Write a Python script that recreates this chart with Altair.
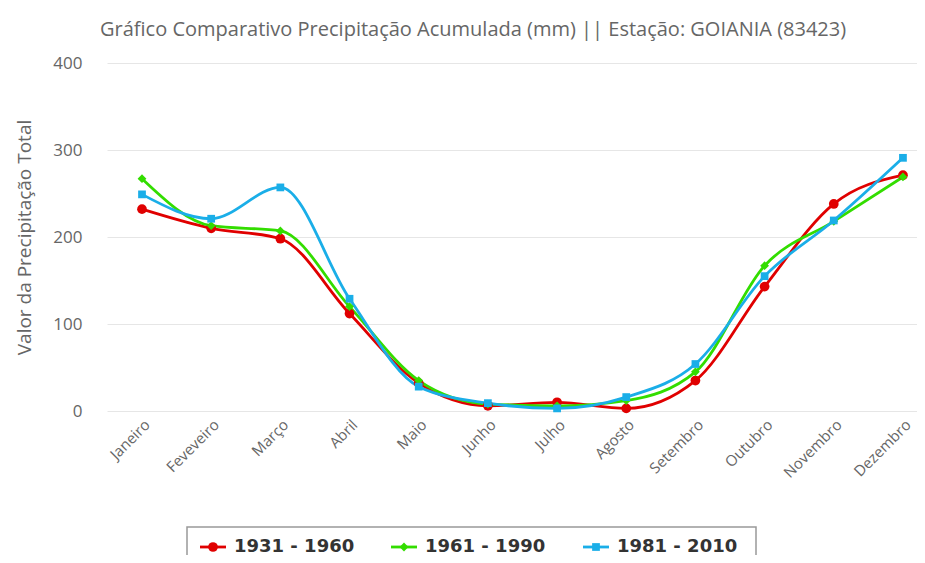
import altair as alt
import pandas as pd

months = ["Janeiro", "Feveveiro", "Março", "Abril", "Maio", "Junho", "Julho",
          "Agosto", "Setembro", "Outubro", "Novembro", "Dezembro"]
series_names = ["1931 - 1960", "1961 - 1990", "1981 - 2010"]
vals_1931 = [232, 210, 198, 112, 32, 6, 10, 3, 35, 143, 238, 271]
vals_1961 = [267, 213, 207, 120, 35, 8, 6, 12, 45, 167, 218, 269]
vals_1981 = [249, 221, 257, 129, 28, 9, 3, 16, 54, 155, 219, 291]
colors = ["#e00000", "#33dd00", "#1aaee8"]
shapes = ["circle", "diamond", "square"]
sizes = [95, 60, 140]
y_ticks = [0, 100, 200, 300, 400]

rows = []
for name, vals in zip(series_names, [vals_1931, vals_1961, vals_1981]):
    for i, (m, v) in enumerate(zip(months, vals)):
        rows.append({"idx": i, "mes": m, "valor": v, "serie": name})
df = pd.DataFrame(rows)

W, H = 810, 348
FONT = "Open Sans"
month_js = "[" + ",".join("'" + m + "'" for m in months) + "]"

x_enc = alt.X("idx:Q",
              scale=alt.Scale(domain=[-0.506, 11.203], nice=False, zero=False),
              axis=alt.Axis(title=None, values=list(range(len(months))),
                            labelExpr=month_js + "[datum.value]",
                            labelAngle=-45, labelAlign="right",
                            labelBaseline="top", labelFontSize=15, labelColor="#666",
                            labelFont=FONT, ticks=False, domain=False, grid=False,
                            labelPadding=6, labelFlush=False, labelOverlap=False))
y_enc = alt.Y("valor:Q", scale=alt.Scale(domain=[0, 400]),
              axis=alt.Axis(values=y_ticks, title="Valor da Precipitação Total",
                            titleFontSize=19, titleFont=FONT, titleColor="#666",
                            titleFontWeight="normal", titlePadding=18,
                            labelFontSize=17, labelColor="#666", labelFont=FONT,
                            labelPadding=25, ticks=False, domain=False,
                            grid=True, gridColor="#e6e6e6"))
color_enc = alt.Color("serie:N", scale=alt.Scale(domain=series_names, range=colors), legend=None)
shape_enc = alt.Shape("serie:N", scale=alt.Scale(domain=series_names, range=shapes), legend=None)
size_enc = alt.Size("serie:N", scale=alt.Scale(domain=series_names, range=sizes), legend=None)

lines = alt.Chart(df).mark_line(interpolate="monotone", strokeWidth=2.8).encode(
    x=x_enc, y=y_enc, color=color_enc, detail="serie:N"
)
points = alt.Chart(df).mark_point(filled=True, opacity=1).encode(
    x=x_enc, y=y_enc, color=color_enc, shape=shape_enc, size=size_enc
)

# custom legend below the plot (positions relative to the plot's top-left corner)
leg = pd.DataFrame({"serie": series_names, "lx": [106, 297, 489]})
leg["lx1"] = leg["lx"] - 13
leg["lx2"] = leg["lx"] + 13
leg["tx"] = leg["lx"] + 21
leg["ly"] = 484

lx_scale = alt.Scale(domain=[0, W], range=[0, W])
ly_scale = alt.Scale(domain=[0, H], range=[0, H])

legend_box = alt.Chart(pd.DataFrame({"a": [0]})).mark_rect(
    fill="white", stroke="#999", strokeWidth=1.5
).encode(
    x=alt.value(80), x2=alt.value(649), y=alt.value(464), y2=alt.value(515)
)
leg_lines = alt.Chart(leg).mark_rule(strokeWidth=2.8).encode(
    x=alt.X("lx1:Q", scale=lx_scale, axis=None), x2="lx2:Q",
    y=alt.Y("ly:Q", scale=ly_scale, axis=None),
    color=color_enc
)
leg_pts = alt.Chart(leg).mark_point(filled=True, opacity=1).encode(
    x=alt.X("lx:Q", scale=lx_scale, axis=None),
    y=alt.Y("ly:Q", scale=ly_scale, axis=None),
    color=color_enc, shape=shape_enc, size=size_enc
)
leg_txt = alt.Chart(leg).mark_text(align="left", baseline="middle", font="DejaVu Sans",
                                   fontWeight="bold", fontSize=18, color="#333").encode(
    x=alt.X("tx:Q", scale=lx_scale, axis=None),
    y=alt.Y("ly:Q", scale=ly_scale, axis=None),
    text="serie:N"
)

main = alt.layer(lines, points)
legend_layer = alt.layer(leg_lines, leg_pts, leg_txt)

chart = alt.layer(main, legend_box, legend_layer).resolve_scale(
    x="independent", y="independent"
).properties(
    width=W, height=H,
    title=alt.Title("Gráfico Comparativo Precipitação Acumulada (mm) || Estação: GOIANIA (83423)",
                    anchor="start", frame="group", dx=-7, fontSize=20, font=FONT,
                    color="#666", fontWeight="normal", offset=14),
    padding={"left": 99, "top": 55, "right": 0, "bottom": 144},
    autosize=alt.AutoSizeParams(type="none")
).configure_view(stroke=None)

chart.save("out.html", embed_options={"renderer": "svg", "actions": False})
